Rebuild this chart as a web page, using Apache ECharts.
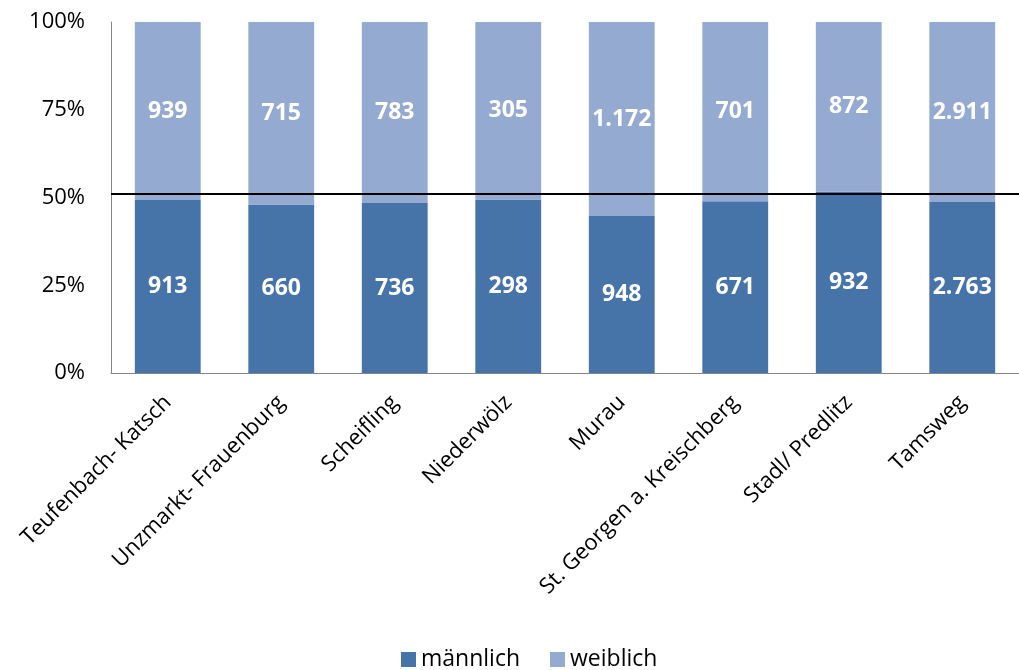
<!DOCTYPE html>
<html>
<head>
<meta charset="utf-8">
<script src="https://cdn.jsdelivr.net/npm/echarts@6/dist/echarts.min.js"></script>
<style>
  html, body { margin: 0; padding: 0; background: #fff; }
  #chart { width: 1019px; height: 670px; }
</style>
</head>
<body>
<div id="chart"></div>
<script>
const categories = ['Teufenbach- Katsch', 'Unzmarkt- Frauenburg', 'Scheifling', 'Niederwölz',
  'Murau', 'St. Georgen a. Kreischberg', 'Stadl/ Predlitz', 'Tamsweg'];
const maleValues = [913, 660, 736, 298, 948, 671, 932, 2763];
const femaleValues = [939, 715, 783, 305, 1172, 701, 872, 2911];
const yTicks = [0, 25, 50, 75, 100];
const refLine = 51;

const font = '"Open Sans", "Noto Sans", sans-serif';

function formatCount(v) {
  return v.toLocaleString('de-DE');
}

function share(values, i) {
  const total = maleValues[i] + femaleValues[i];
  return values[i] / total * 100;
}

const maleData = maleValues.map((v, i) => ({ value: share(maleValues, i), raw: v }));
const femaleData = femaleValues.map((v, i) => ({ value: share(femaleValues, i), raw: v }));

const barLabel = {
  show: true,
  position: 'inside',
  color: '#fff',
  fontWeight: 'bold',
  fontSize: 23,
  fontFamily: font,
  formatter: (p) => formatCount(p.data.raw),
};

const chart = echarts.init(document.getElementById('chart'));
chart.setOption({
  animation: false,
  grid: { left: 111, right: 0, top: 22, bottom: 297 },
  legend: {
    top: 643,
    left: 396,
    itemWidth: 15,
    itemHeight: 15,
    itemGap: 30,
    icon: 'rect',
    textStyle: { fontSize: 23, fontFamily: font, color: '#000' },
    data: ['männlich', 'weiblich'],
  },
  xAxis: {
    type: 'category',
    data: categories,
    axisLine: { lineStyle: { color: '#868686' } },
    axisTick: { show: false },
    axisLabel: {
      rotate: 45,
      interval: 0,
      margin: 26,
      fontSize: 22,
      fontFamily: font,
      color: '#000',
    },
  },
  yAxis: {
    type: 'value',
    min: yTicks[0],
    max: yTicks[yTicks.length - 1],
    interval: 25,
    splitLine: { show: false },
    axisLine: { show: true, lineStyle: { color: '#868686' } },
    axisTick: { show: false },
    axisLabel: {
      margin: 26,
      fontSize: 22,
      fontFamily: font,
      color: '#000',
      formatter: (v) => v + '%',
    },
  },
  series: [
    {
      name: 'männlich',
      type: 'bar',
      stack: 'total',
      barWidth: '58%',
      itemStyle: { color: '#4673A8' },
      label: barLabel,
      data: maleData,
    },
    {
      name: 'weiblich',
      type: 'bar',
      stack: 'total',
      barWidth: '58%',
      itemStyle: { color: '#95AAD1' },
      label: barLabel,
      data: femaleData,
      markLine: {
        silent: true,
        symbol: 'none',
        label: { show: false },
        lineStyle: { color: '#000', width: 2, type: 'solid' },
        data: [{ yAxis: refLine }],
      },
    },
  ],
});
</script>
</body>
</html>
